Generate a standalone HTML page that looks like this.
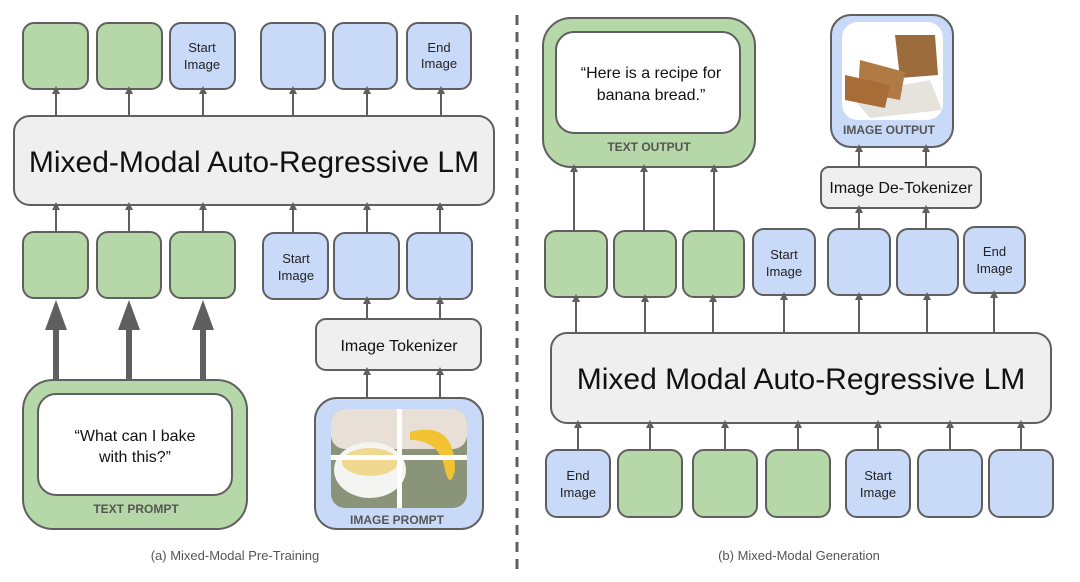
<!DOCTYPE html>
<html><head><meta charset="utf-8"><style>
html,body{margin:0;padding:0;background:#fff;}
svg{display:block;font-family:"Liberation Sans",Arial,sans-serif;}
</style></head><body>
<svg width="1080" height="582" viewBox="0 0 1080 582" xmlns="http://www.w3.org/2000/svg">
<defs>
<marker id="a" markerWidth="8" markerHeight="8" refX="4" refY="4" orient="auto" markerUnits="userSpaceOnUse">
<path d="M0,8 L4,0 L8,8 Z" fill="#5f5f5f" transform="rotate(90 4 4)"/>
</marker>
</defs>
<g stroke="#5f5f5f" stroke-width="2">
<rect x="23" y="23" width="65" height="66" rx="11" fill="#b6d7a8"/>
<rect x="97" y="23" width="65" height="66" rx="11" fill="#b6d7a8"/>
<rect x="170" y="23" width="65" height="66" rx="11" fill="#c9daf8"/>
<rect x="261" y="23" width="64" height="66" rx="11" fill="#c9daf8"/>
<rect x="333" y="23" width="64" height="66" rx="11" fill="#c9daf8"/>
<rect x="407" y="23" width="64" height="66" rx="11" fill="#c9daf8"/>
<rect x="14" y="116" width="480" height="89" rx="16" fill="#efefef"/>
<rect x="23" y="232" width="65" height="66" rx="11" fill="#b6d7a8"/>
<rect x="97" y="232" width="64" height="66" rx="11" fill="#b6d7a8"/>
<rect x="170" y="232" width="65" height="66" rx="11" fill="#b6d7a8"/>
<rect x="263" y="233" width="65" height="66" rx="11" fill="#c9daf8"/>
<rect x="334" y="233" width="65" height="66" rx="11" fill="#c9daf8"/>
<rect x="407" y="233" width="65" height="66" rx="11" fill="#c9daf8"/>
<rect x="316" y="319" width="165" height="51" rx="10" fill="#efefef"/>
<rect x="23" y="380" width="224" height="149" rx="30" fill="#b6d7a8"/>
<rect x="38" y="394" width="194" height="101" rx="18" fill="#fff"/>
<rect x="315" y="398" width="168" height="131" rx="22" fill="#c9daf8"/>
<rect x="543" y="18" width="212" height="149" rx="28" fill="#b6d7a8"/>
<rect x="556" y="32" width="184" height="101" rx="18" fill="#fff"/>
<rect x="831" y="15" width="122" height="132" rx="20" fill="#c9daf8"/>
<rect x="821" y="167" width="160" height="41" rx="8" fill="#efefef"/>
<rect x="545" y="231" width="62" height="66" rx="11" fill="#b6d7a8"/>
<rect x="614" y="231" width="62" height="66" rx="11" fill="#b6d7a8"/>
<rect x="683" y="231" width="61" height="66" rx="11" fill="#b6d7a8"/>
<rect x="753" y="229" width="62" height="66" rx="11" fill="#c9daf8"/>
<rect x="828" y="229" width="62" height="66" rx="11" fill="#c9daf8"/>
<rect x="897" y="229" width="61" height="66" rx="11" fill="#c9daf8"/>
<rect x="964" y="227" width="61" height="66" rx="11" fill="#c9daf8"/>
<rect x="551" y="333" width="500" height="90" rx="16" fill="#efefef"/>
<rect x="546" y="450" width="64" height="67" rx="11" fill="#c9daf8"/>
<rect x="618" y="450" width="64" height="67" rx="11" fill="#b6d7a8"/>
<rect x="693" y="450" width="64" height="67" rx="11" fill="#b6d7a8"/>
<rect x="766" y="450" width="64" height="67" rx="11" fill="#b6d7a8"/>
<rect x="846" y="450" width="64" height="67" rx="11" fill="#c9daf8"/>
<rect x="918" y="450" width="64" height="67" rx="11" fill="#c9daf8"/>
<rect x="989" y="450" width="64" height="67" rx="11" fill="#c9daf8"/>
</g>
<g>
<rect x="331" y="409" width="136" height="99" rx="14" fill="#8a9478"/>
<rect x="331" y="409" width="136" height="40" rx="14" fill="#e8e0d6"/>
<ellipse cx="370" cy="470" rx="36" ry="28" fill="#f4f4f2"/>
<ellipse cx="370" cy="462" rx="28" ry="14" fill="#f0d890"/>
<path d="M410,432 Q455,420 455,470 Q450,490 445,470 Q440,440 410,440 Z" fill="#f1c232"/>
<rect x="397" y="409" width="5" height="99" fill="#fff"/>
<rect x="331" y="455" width="136" height="5" fill="#fff"/>
<rect x="842" y="22" width="101" height="98" rx="16" fill="#fff"/>
<path d="M850,95 L930,80 L942,110 L870,118 Z" fill="#e6e2dc"/>
<path d="M895,35 L935,35 L938,75 L900,78 Z" fill="#9c6b3c"/>
<path d="M860,60 L905,72 L900,100 L858,92 Z" fill="#b07a45"/>
<path d="M845,75 L890,85 L885,108 L845,100 Z" fill="#a86d36"/>
</g>
<g stroke="#5f5f5f" stroke-width="2" fill="none" marker-end="url(#a)">
<path d="M56 116V90"/><path d="M129 116V90"/><path d="M203 116V90"/><path d="M293 116V90"/><path d="M367 116V90"/><path d="M441 116V90"/>
<path d="M56 232V206"/><path d="M129 232V206"/><path d="M203 232V206"/><path d="M293 233V206"/><path d="M367 233V206"/><path d="M440 233V206"/>
<path d="M367 319V300"/><path d="M440 319V300"/><path d="M367 398V371"/><path d="M440 398V371"/>
<path d="M574 231V168"/><path d="M644 231V168"/><path d="M714 231V168"/>
<path d="M859 167V148"/><path d="M926 167V148"/><path d="M859 229V209"/><path d="M926 229V209"/>
<path d="M576 333V298"/><path d="M645 333V298"/><path d="M713 333V298"/><path d="M784 333V296"/><path d="M859 333V296"/><path d="M927 333V296"/><path d="M994 333V294"/>
<path d="M578 450V424"/><path d="M650 450V424"/><path d="M725 450V424"/><path d="M798 450V424"/><path d="M878 450V424"/><path d="M950 450V424"/><path d="M1021 450V424"/>
</g>
<g fill="#5f5f5f">
<rect x="53" y="325" width="6" height="55"/><rect x="126" y="325" width="6" height="55"/><rect x="200" y="325" width="6" height="55"/>
<path d="M45,330 L56,300 L67,330 Z"/><path d="M118,330 L129,300 L140,330 Z"/><path d="M192,330 L203,300 L214,330 Z"/>
</g>
<line x1="517" y1="15" x2="517" y2="570" stroke="#5f5f5f" stroke-width="3" stroke-dasharray="10,7"/>
<g fill="#222" font-size="13" text-anchor="middle">
<text x="202" y="52">Start</text><text x="202" y="69">Image</text>
<text x="439" y="52">End</text><text x="439" y="68">Image</text>
<text x="296" y="263">Start</text><text x="296" y="280">Image</text>
<text x="784" y="259">Start</text><text x="784" y="276">Image</text>
<text x="994.5" y="256">End</text><text x="994.5" y="273">Image</text>
<text x="578" y="480">End</text><text x="578" y="497">Image</text>
<text x="878" y="480">Start</text><text x="878" y="497">Image</text>
</g>
<g fill="#111" text-anchor="middle">
<text x="254" y="172" font-size="30">Mixed-Modal Auto-Regressive LM</text>
<text x="801" y="389" font-size="30">Mixed Modal Auto-Regressive LM</text>
<text x="399" y="351" font-size="16">Image Tokenizer</text>
<text x="901" y="193" font-size="16">Image De-Tokenizer</text>
<text x="135" y="441" font-size="16">“What can I bake</text>
<text x="135" y="462" font-size="16">with this?”</text>
<text x="651" y="78" font-size="16">“Here is a recipe for</text>
<text x="651" y="100" font-size="16">banana bread.”</text>
</g>
<g fill="#555" font-size="12" font-weight="bold" text-anchor="middle">
<text x="136" y="513">TEXT PROMPT</text>
<text x="397" y="524">IMAGE PROMPT</text>
<text x="649" y="151">TEXT OUTPUT</text>
<text x="889" y="134">IMAGE OUTPUT</text>
</g>
<g fill="#555" font-size="13" text-anchor="middle">
<text x="235" y="560">(a) Mixed-Modal Pre-Training</text>
<text x="799" y="560">(b) Mixed-Modal Generation</text>
</g>
</svg>
</body></html>
